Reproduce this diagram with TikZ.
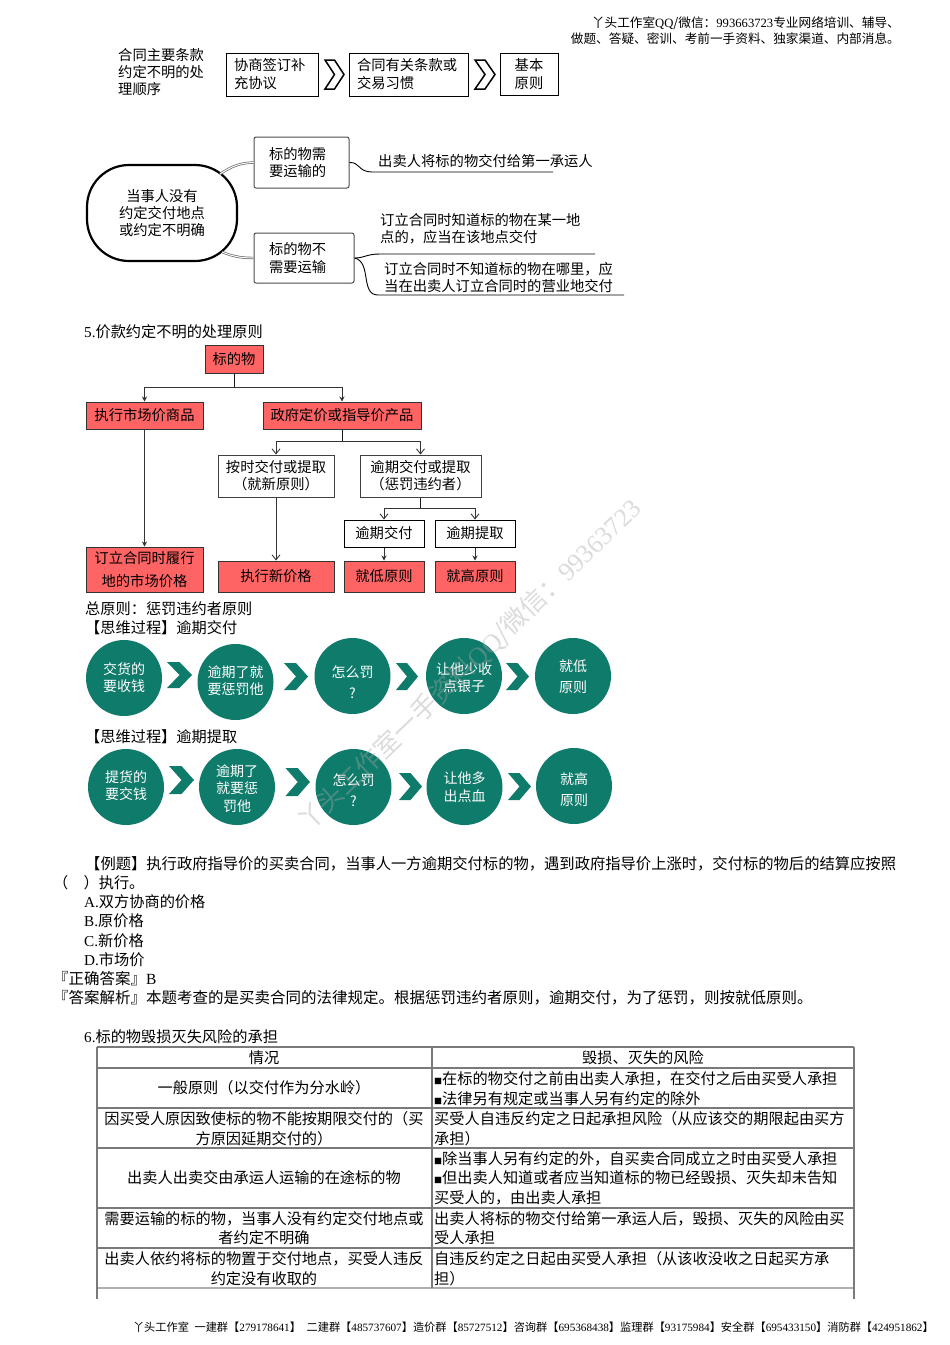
\documentclass[tikz,border=0pt]{standalone}
\usepackage{fontspec}
\setmainfont{Noto Sans CJK SC}
\newfontfamily\lat{Liberation Serif}
\usetikzlibrary{arrows.meta}

\newcommand{\fs}[2]{\fontsize{#1}{#2}\selectfont}
\newcommand{\sq}{{\fontsize{8}{8}\selectfont ■}}
% chevron between x0,y0 and x1,y1
\newcommand{\chev}[5]{\path[#1] (#2,#3) -- ({#2+0.5*(#4-#2)},#3) -- (#4,{(#3+#5)/2}) -- ({#2+0.5*(#4-#2)},#5) -- (#2,#5) -- ({#2+0.5*(#4-#2)},{(#3+#5)/2}) -- cycle;}
% green ball with its text
\newcommand{\ball}[5]{\node[ballshape] (#1) at (#2,#3) {};
   \node[balltext] (#1text) at (#2,#4) {#5};}

\definecolor{redbox}{HTML}{FF6464}
\definecolor{teal}{HTML}{0F7B6B}
\definecolor{rule}{HTML}{7A7A7A}

\tikzset{
  body/.style={anchor=west,inner sep=0pt,yshift=-1pt,font=\fs{15.2}{19}},
  answerline/.style={anchor=west,inner sep=0pt,yshift=-1pt,font=\fs{15.5}{19}},
  small/.style={anchor=west,inner sep=0pt,yshift=-0.5pt,align=left,font=\fs{14.3}{17}},
  plainbox/.style={draw=black,line width=0.9pt,inner sep=0pt,align=left,font=\fs{14.3}{18}},
  mapbox/.style={draw=black!70,line width=1pt,rounded corners=2pt,inner sep=0pt,align=left,font=\fs{14.3}{17.5}},
  redcell/.style={draw=black!80,fill=redbox,line width=1pt,inner sep=0pt,align=center,font=\fs{14.3}{18}},
  whitecell/.style={draw=black!75,line width=1pt,inner sep=0pt,align=center,font=\fs{14.3}{17}},
  ballshape/.style={circle,fill=teal,minimum size=76pt,inner sep=0pt},
  balltext/.style={inner sep=0pt,align=center,text=white,font=\fs{14}{17.5}},
  cellmid/.style={inner sep=0pt,yshift=-1pt,align=center,font=\fs{15.2}{19.5}},
  cellleft/.style={anchor=west,inner sep=0pt,yshift=-1pt,align=left,font=\fs{15.2}{19.5}},
  arrowfill/.style={draw=black!80,line width=0.9pt,-{Stealth[length=5pt,width=5pt]}},
  arrowopen/.style={draw=black!80,line width=0.9pt,-{Straight Barb[length=5pt,width=8pt]}},
  trunk/.style={draw=black!90,line width=1pt},
  branch/.style={draw=black!60,line width=0.7pt,double,double distance=1pt},
  twig/.style={draw=black,line width=0.9pt},
}

\begin{document}
\begin{tikzpicture}[x=1pt,y=-1pt]
   \useasboundingbox (0,0) rectangle (950,1345);

   % header
   \node[anchor=north east,inner sep=0pt,align=right,font=\fs{12.65}{16}] (header) at (900,17)
      {丫头工作室{\lat QQ}/微信：{\lat 993663723}专业网络培训、辅导、\\做题、答疑、密训、考前一手资料、独家渠道、内部消息。};

   % order of the main terms
   \node[small] (orderlabel) at (118,72) {合同主要条款\\约定不明的处\\理顺序};
   \node[plainbox,minimum width=92pt,minimum height=43pt,text width=76pt] (talk) at (272,74.5) {协商签订补\\充协议};
   \node[plainbox,minimum width=119pt,minimum height=43pt,text width=103pt] (terms) at (408.5,74.5) {合同有关条款或\\交易习惯};
   \node[plainbox,minimum width=58pt,minimum height=42pt,align=center] (basic) at (529,74) {基本\\原则};
   \chev{draw=black,fill=white,line width=1.5pt,line join=miter}{325}{60}{344}{89}
   \chev{draw=black,fill=white,line width=1.5pt,line join=miter}{475}{60}{495}{89}

   % place of delivery
   \coordinate (ctxup) at (220,174);
   \coordinate (ctxdown) at (222,252);
   \coordinate (shipend) at (553,172);
   \coordinate (knownend) at (595,254);
   \coordinate (unknownend) at (624,295);
   \node[draw=black,line width=2.2pt,rounded corners=42pt,minimum width=150pt,minimum height=96pt,inner sep=0pt,align=center,font=\fs{14.3}{17}] (ctx) at (162,213) {当事人没有\\约定交付地点\\或约定不明确};
   \node[mapbox,minimum width=95pt,minimum height=51pt,text width=65pt] (ship) at (301.5,162.5) {标的物需\\要运输的};
   \node[mapbox,minimum width=100pt,minimum height=50pt,text width=70pt] (noship) at (304,258) {标的物不\\需要运输};
   \draw[branch] (ctxup) .. controls (232,166) and (240,163) .. (ship.west);
   \draw[branch] (ctxdown) .. controls (232,256) and (240,258) .. (noship.west);
   \draw[twig] (ship.east) .. controls (360,162) and (358,172) .. (372,172) -- (shipend);
   \draw[twig] (noship.east) .. controls (365,258) and (366,254) .. (380,254) -- (knownend);
   \draw[twig] (noship.east) .. controls (372,262) and (360,295) .. (378,295) -- (unknownend);
   \node[small] (shiptext) at (378,161) {出卖人将标的物交付给第一承运人};
   \node[small] (knowntext) at (380,228.5) {订立合同时知道标的物在某一地\\点的，应当在该地点交付};
   \node[small] (unknowntext) at (384,277.5) {订立合同时不知道标的物在哪里，应\\当在出卖人订立合同时的营业地交付};

   % price chart
   \node[body] (pricehead) at (84,331) {{\lat 5.}价款约定不明的处理原则};
   \node[redcell,minimum width=58pt,minimum height=28pt] (goods) at (234,359) {标的物};
   \node[redcell,minimum width=117pt,minimum height=27pt] (market) at (144.5,415.5) {执行市场价商品};
   \node[redcell,minimum width=158pt,minimum height=27pt] (gov) at (342,415.5) {政府定价或指导价产品};
   \node[whitecell,minimum width=116pt,minimum height=42pt] (ontime) at (276,476) {按时交付或提取\\（就新原则）};
   \node[whitecell,minimum width=121pt,minimum height=42pt] (overdue) at (420.5,476) {逾期交付或提取\\（惩罚违约者）};
   \node[whitecell,draw=black,minimum width=80pt,minimum height=27pt] (latepay) at (384,533.5) {逾期交付};
   \node[whitecell,draw=black,minimum width=80pt,minimum height=27pt] (latetake) at (475,533.5) {逾期提取};
   \node[redcell,minimum width=117pt,minimum height=45pt,font=\fs{14.3}{23}] (marketprice) at (144.5,569.5) {订立合同时履行\\地的市场价格};
   \node[redcell,minimum width=116pt,minimum height=31pt] (newprice) at (276,576.5) {执行新价格};
   \node[redcell,minimum width=80pt,minimum height=31pt] (low) at (384,576.5) {就低原则};
   \node[redcell,minimum width=80pt,minimum height=31pt] (high) at (475,576.5) {就高原则};
   \coordinate (busa) at (234,387);
   \coordinate (busb) at (342,441.5);
   \coordinate (busc) at (420.5,508);
   \draw[trunk] (goods.south) -- (busa);
   \draw[arrowfill] (busa) -| (market.north);
   \draw[arrowfill] (busa) -| (gov.north);
   \draw[trunk] (gov.south) -- (busb);
   \draw[arrowopen] (busb) -| (ontime.north);
   \draw[arrowopen] (busb) -| (overdue.north);
   \draw[trunk] (overdue.south) -- (busc);
   \draw[arrowopen] (busc) -| (latepay.north);
   \draw[arrowopen] (busc) -| (latetake.north);
   \draw[arrowfill] (market.south) -- (marketprice.north);
   \draw[arrowopen] (ontime.south) -- (newprice.north);
   \draw[arrowfill] (latepay.south) -- (low.north);
   \draw[arrowfill] (latetake.south) -- (high.north);

   \node[body] (general) at (85,608) {总原则：惩罚违约者原则};
   \node[body] (thinka) at (85,627) {【思维过程】逾期交付};
   \node[body] (thinkb) at (85,736) {【思维过程】逾期提取};

   % thinking process, first row
   \ball{paya}{124}{678}{677.5}{交货的\\要收钱}
   \ball{payb}{235.5}{682}{680.5}{逾期了就\\要惩罚他}
   \ball{payc}{352.5}{676}{682.5}{怎么罚\\[3.5pt]?}
   \ball{payd}{464}{676}{677.5}{让他少收\\点银子}
   \ball{paye}{573}{676}{676.5}{就低\\[3.5pt]原则}
   \chev{fill=teal}{167}{662}{192}{688}
   \chev{fill=teal}{284}{663}{308}{690}
   \chev{fill=teal}{396}{663}{418}{690}
   \chev{fill=teal}{506}{663}{529}{690}
   % thinking process, second row
   \ball{takea}{126}{787}{785.5}{提货的\\要交钱}
   \ball{takeb}{237}{787}{788.5}{逾期了\\就要惩\\罚他}
   \ball{takec}{353.5}{787}{790.5}{怎么罚\\[3.5pt]?}
   \ball{taked}{464.5}{787}{787}{让他多\\出点血}
   \ball{takee}{574}{786}{789.5}{就高\\[3.5pt]原则}
   \chev{fill=teal}{169}{766}{194}{794}
   \chev{fill=teal}{285.5}{768}{310}{796}
   \chev{fill=teal}{399}{773}{422}{800}
   \chev{fill=teal}{508}{773}{531}{800}

   % exercise
   \node[body,font=\fs{15.3}{19}] (examplea) at (85,863) {【例题】执行政府指导价的买卖合同，当事人一方逾期交付标的物，遇到政府指导价上涨时，交付标的物后的结算应按照};
   \node[body] (exampleb) at (53,882) {（\quad）执行。};
   \node[body] (optiona) at (84,901) {{\lat A.}双方协商的价格};
   \node[body] (optionb) at (84,920) {{\lat B.}原价格};
   \node[body] (optionc) at (84,940) {{\lat C.}新价格};
   \node[body] (optiond) at (84,959) {{\lat D.}市场价};
   \node[answerline] (answer) at (53,978) {『正确答案』{\lat B}};
   \node[answerline] (analysis) at (53,997) {『答案解析』本题考查的是买卖合同的法律规定。根据惩罚违约者原则，逾期交付，为了惩罚，则按就低原则。};

   % risk table
   \node[body] (riskhead) at (84,1036) {{\lat 6.}标的物毁损灭失风险的承担};
   \draw[rule,line width=1.5pt] (97,1047) -- (854,1047);
   \foreach \yy in {1068,1108,1148,1208,1248}
      \draw[rule,line width=1.5pt] (97,\yy) -- (854,\yy);
   \draw[rule!60,line width=1.2pt] (97,1288) -- (854,1288);
   \draw[rule,line width=1.2pt] (97,1047) -- (97,1299);
   \draw[rule,line width=1.2pt] (854,1047) -- (854,1299);
   \draw[rule,line width=1.5pt] (432,1047) -- (432,1288);
   \node[cellmid] (rowhead) at (264,1057) {情况};
   \node[cellmid] (rowa) at (264,1087) {一般原则（以交付作为分水岭）};
   \node[cellmid] (rowb) at (264,1127.5) {因买受人原因致使标的物不能按期限交付的（买\\方原因延期交付的）};
   \node[cellmid] (rowc) at (264,1177) {出卖人出卖交由承运人运输的在途标的物};
   \node[cellmid] (rowd) at (264,1227) {需要运输的标的物，当事人没有约定交付地点或\\者约定不明确};
   \node[cellmid] (rowe) at (264,1267.5) {出卖人依约将标的物置于交付地点，买受人违反\\约定没有收取的};
   \node[cellmid] (riskhd) at (643,1057) {毁损、灭失的风险};
   \node[cellleft] (riska) at (434,1087.5) {\sq 在标的物交付之前由出卖人承担，在交付之后由买受人承担\\\sq 法律另有规定或当事人另有约定的除外};
   \node[cellleft] (riskb) at (434,1127.5) {买受人自违反约定之日起承担风险（从应该交的期限起由买方\\承担）};
   \node[cellleft] (riskc) at (434,1177) {\sq 除当事人另有约定的外，自买卖合同成立之时由买受人承担\\\sq 但出卖人知道或者应当知道标的物已经毁损、灭失却未告知\\买受人的，由出卖人承担};
   \node[cellleft] (riskd) at (434,1227) {出卖人将标的物交付给第一承运人后，毁损、灭失的风险由买\\受人承担};
   \node[cellleft] (riske) at (434,1267.5) {自违反约定之日起由买受人承担（从该收没收之日起买方承\\担）};

   % footer
   \node[anchor=east,inner sep=0pt,font=\fs{11.2}{14}] (footer) at (934,1327)
      {丫头工作室\enspace 一建群【{\lat 279178641}】\enspace 二建群【{\lat 485737607}】造价群【{\lat 85727512}】咨询群【{\lat 695368438}】监理群【{\lat 93175984}】安全群【{\lat 695433150}】消防群【{\lat 424951862}】};

   % watermark
   \node[rotate=44,inner sep=0pt,text=black!35,opacity=0.4,font=\fs{26}{26}] (mark) at (470,665) {丫头工作室一手资料{\lat QQ}/微信：{\lat 99363723}};
\end{tikzpicture}
\end{document}
